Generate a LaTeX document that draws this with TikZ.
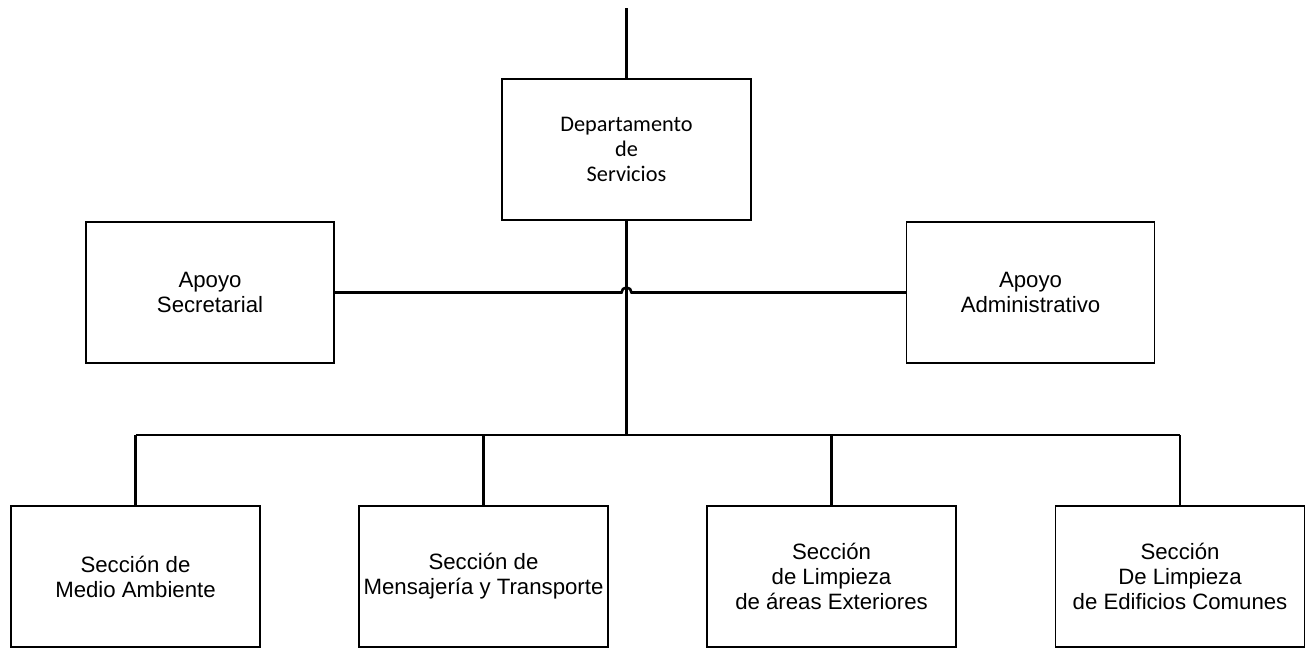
\documentclass[tikz,border=0pt]{standalone}
\usepackage{fontspec}
\setmainfont{Liberation Sans}
\newfontfamily\calibri{Carlito}
\usepackage{tikz}

\tikzset{caja/.style={draw, line width=1.2pt, minimum width=249pt, minimum height=141pt,
    align=center, inner sep=0pt, font=\fontsize{22.2}{25}\selectfont},
  enlace/.style={line width=2.6pt}}

\begin{document}
\begin{tikzpicture}[x=1pt, y=-1pt]
\useasboundingbox (0,0) rectangle (1308,649);
\node[caja, font=\calibri\fontsize{22.3}{25}\selectfont] (dep) at (626.5,149.5) {Departamento\\de\\Servicios};
\node[caja, minimum width=248pt] (sec) at (210,292.5) {Apoyo\\Secretarial};
\node[caja, minimum width=248pt] (adm) at (1030.5,292.5) {Apoyo\\Administrativo};
\foreach \X/\T [count=\N] in {135.5/{Secci\'on de\\Medio Ambiente}, 483.5/{Secci\'on de\\Mensajer\'ia y Transporte},
  831.5/{Secci\'on\\de Limpieza\\de \'areas Exteriores}, 1180/{Secci\'on\\De Limpieza\\de Edificios Comunes}}
{\node[caja] (s\N) at (\X,576.5) {\T}; }
\coordinate (tope) at (626.5,8);
\coordinate (bus) at (626.5,435);
\draw[enlace] (tope) -- (dep.north);
\draw[enlace] (dep.south) -- (bus);
\draw[enlace] (sec.east) -- ([xshift=-5pt]dep.south |- sec.east) arc (180:0:5pt) -- (adm.west);
\draw[enlace] (s1.north |- bus) -- (s4.north |- bus);
\foreach \N in {1,...,4}
{\draw[enlace] (s\N.north |- bus) -- (s\N.north); }
\end{tikzpicture}
\end{document}
